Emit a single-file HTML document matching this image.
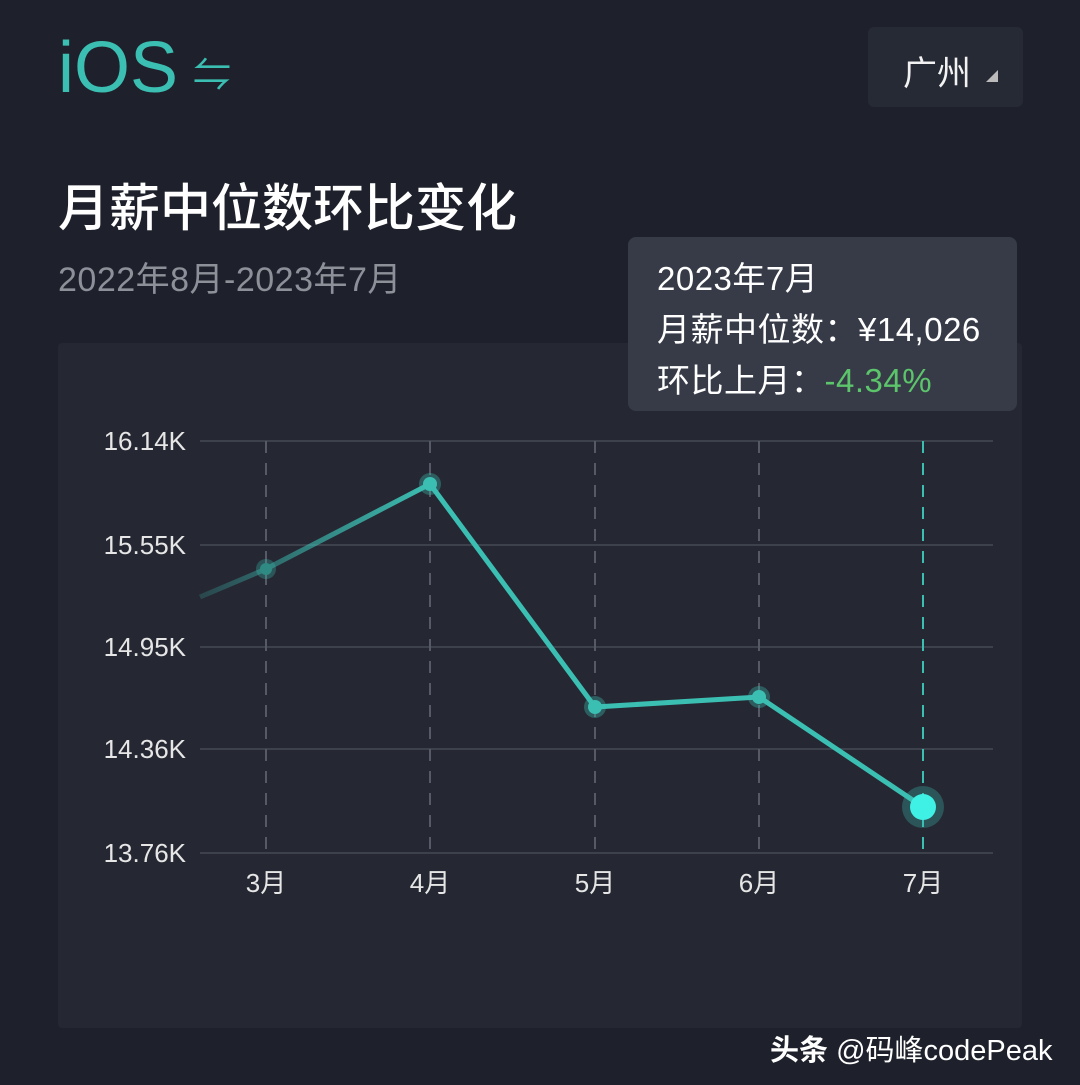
<!DOCTYPE html>
<html><head><meta charset="utf-8"><style>
body{margin:0;width:1080px;height:1085px;background:#1e212b;overflow:hidden;position:relative;font-family:"Liberation Sans","Noto Sans CJK SC",sans-serif;}
.a{position:absolute;white-space:nowrap}
</style></head><body>
<div class="a" style="left:58px;top:28px;font-size:72px;color:#3cbfb3;line-height:80px">iOS</div>
<div class="a" style="left:193px;top:44px;font-size:38px;color:#3cbfb3">⇋</div>
<div class="a" style="left:868px;top:27px;width:155px;height:80px;background:#262a35;border-radius:6px"></div>
<div class="a" style="left:903px;top:46px;font-size:34px;color:#f2f2f2">广州</div>
<div class="a" style="left:986px;top:70px;width:0;height:0;border-left:12px solid transparent;border-bottom:12px solid #bbb"></div>
<div class="a" style="left:58px;top:167px;font-size:51px;color:#fff;font-weight:500">月薪中位数环比变化</div>
<div class="a" style="left:58px;top:252px;font-size:34px;color:#8d9099;letter-spacing:0.5px">2022年8月-2023年7月</div>
<div class="a" style="left:58px;top:343px;width:964px;height:685px;background:#252833;border-radius:4px"></div>
<svg class="a" style="left:0;top:0" width="1080" height="1085">
<g stroke="#3d414c" stroke-width="2">
<line x1="200" y1="441" x2="993" y2="441"/><line x1="200" y1="545" x2="993" y2="545"/><line x1="200" y1="647" x2="993" y2="647"/><line x1="200" y1="749" x2="993" y2="749"/><line x1="200" y1="853" x2="993" y2="853"/>
</g>
<g stroke="#555a66" stroke-width="2" stroke-dasharray="12,10">
<line x1="266" y1="441" x2="266" y2="853"/><line x1="430" y1="441" x2="430" y2="853"/><line x1="595" y1="441" x2="595" y2="853"/><line x1="759" y1="441" x2="759" y2="853"/>
</g>
<line x1="923" y1="441" x2="923" y2="853" stroke="#3cbfb3" stroke-width="2" stroke-dasharray="12,10"/>
<defs><linearGradient id="g" x1="200" y1="0" x2="430" y2="0" gradientUnits="userSpaceOnUse"><stop offset="0" stop-color="#3cbfb3" stop-opacity="0.2"/><stop offset="1" stop-color="#3cbfb3"/></linearGradient></defs>
<polyline points="200,597 266,569 430,484" fill="none" stroke="url(#g)" stroke-width="5"/>
<polyline points="430,484 595,707 759,697 923,807" fill="none" stroke="#3cbfb3" stroke-width="5"/>
<g fill="#3cbfb3"><circle cx="266" cy="569" r="10" opacity=".3"/><circle cx="266" cy="569" r="6" fill="#2f8a83"/>
<circle cx="430" cy="484" r="11" opacity=".35"/><circle cx="430" cy="484" r="7"/>
<circle cx="595" cy="707" r="11" opacity=".35"/><circle cx="595" cy="707" r="7"/>
<circle cx="759" cy="697" r="11" opacity=".35"/><circle cx="759" cy="697" r="7"/>
<circle cx="923" cy="807" r="21" opacity=".3"/><circle cx="923" cy="807" r="13" fill="#3ff0e4"/></g>
<g fill="#e6e6e6" font-size="26" text-anchor="end" font-family="Liberation Sans,sans-serif">
<text x="186" y="450">16.14K</text><text x="186" y="554">15.55K</text><text x="186" y="656">14.95K</text><text x="186" y="758">14.36K</text><text x="186" y="862">13.76K</text></g>
<g fill="#e6e6e6" font-size="26" text-anchor="middle" font-family="Liberation Sans,Noto Sans CJK SC,sans-serif">
<text x="266" y="892">3月</text><text x="430" y="892">4月</text><text x="595" y="892">5月</text><text x="759" y="892">6月</text><text x="923" y="892">7月</text></g>
</svg>
<div class="a" style="left:628px;top:237px;width:389px;height:174px;background:#363b47;border-radius:8px"></div>
<div class="a" style="left:657px;top:253px;font-size:33px;color:#fff;line-height:51px;letter-spacing:0.5px">2023年7月<br>月薪中位数：¥14,026<br>环比上月：<span style="color:#5cc46a">-4.34%</span></div>
<div class="a" style="left:770px;top:1027px;font-size:29px;color:#fff"><b>头条</b> @码峰codePeak</div>
</body></html>
